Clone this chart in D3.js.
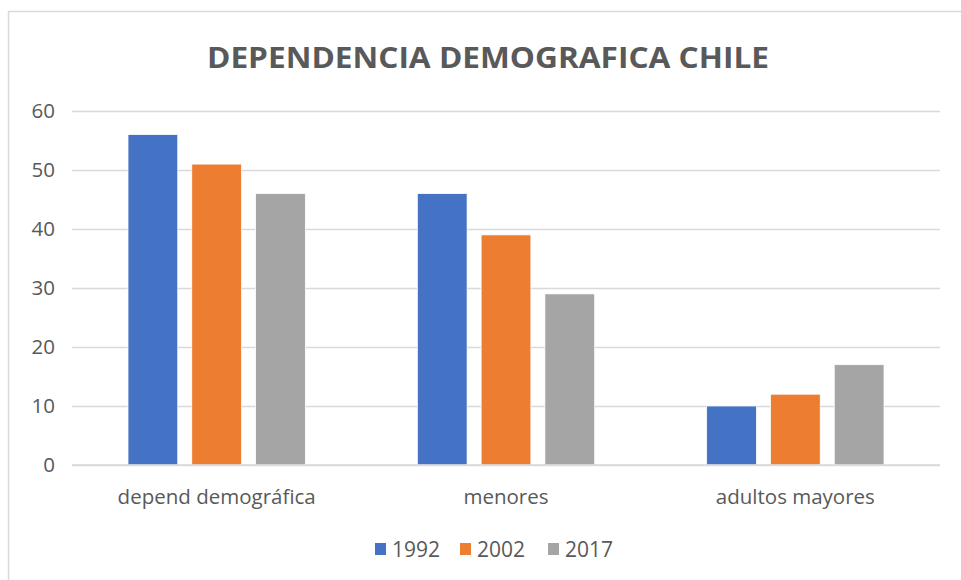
<!DOCTYPE html>
<html>
<head>
<meta charset="utf-8">
<script src="https://cdn.jsdelivr.net/npm/d3@7"></script>
<style>
  body { margin: 0; background: #fff; }
  svg { display: block; font-family: 'Open Sans', sans-serif; }
</style>
</head>
<body>
<div id="chart"></div>
<script>
/* global d3 */

// Data
const categories = ['depend demográfica', 'menores', 'adultos mayores']
const years = ['1992', '2002', '2017']
const values1992 = [56, 46, 10]
const values2002 = [51, 39, 12]
const values2017 = [46, 29, 17]
const yTicks = [0, 10, 20, 30, 40, 50, 60]
const colors = ['#4472C4', '#ED7D31', '#A5A5A5']

const series = [values1992, values2002, values2017]

// Canvas
const width = 961,
  height = 580,
  plotLeft = 72,
  plotRight = 940,
  plotTop = 111,
  plotBottom = 465

let svg = d3.select('#chart')
  .append('svg')
  .attr('width', width)
  .attr('height', height)

// chart frame
svg.append('rect')
  .attr('x', 8.5)
  .attr('y', 11.5)
  .attr('width', 970)
  .attr('height', 600)
  .attr('fill', '#fff')
  .attr('stroke', '#D9D9D9')
  .attr('stroke-width', 1.5)

// title
svg.append('text')
  .attr('x', 488)
  .attr('y', 68)
  .attr('text-anchor', 'middle')
  .attr('font-size', 29)
  .attr('font-weight', 'bold')
  .attr('fill', '#595959')
  .attr('textLength', 562)
  .attr('lengthAdjust', 'spacingAndGlyphs')
  .text('DEPENDENCIA DEMOGRAFICA CHILE')

// scales
const yScale = d3.scaleLinear()
  .domain([0, 60])
  .range([plotBottom, plotTop])

const xScale = d3.scaleBand()
  .domain(categories)
  .range([plotLeft, plotRight])

const groupInner = 56
const xSub = d3.scaleBand()
  .domain(years)
  .range([groupInner, xScale.bandwidth() - groupInner])
  .paddingInner(0.22)

// gridlines + y labels
const yAxis = d3.axisLeft(yScale)
  .tickValues(yTicks)
  .tickSize(-(plotRight - plotLeft))
  .tickPadding(17)

let gy = svg.append('g')
  .attr('transform', `translate(${plotLeft}, 0)`)
  .call(yAxis)
gy.select('.domain').remove()
gy.selectAll('.tick line')
  .attr('stroke', '#D9D9D9')
  .attr('stroke-width', 1.5)
gy.selectAll('.tick text')
  .attr('fill', '#595959')
  .attr('font-size', 20.5)
  .attr('font-family', "'Open Sans', sans-serif")

// x labels
const xAxis = d3.axisBottom(xScale).tickSize(0).tickPadding(24)
let gx = svg.append('g')
  .attr('transform', `translate(0, ${plotBottom})`)
  .call(xAxis)
gx.select('.domain').remove()
gx.selectAll('.tick text')
  .attr('fill', '#595959')
  .attr('font-size', 20.5)
  .attr('font-family', "'Open Sans', sans-serif")

// bars
years.forEach((yr, s) => {
  svg.append('g')
    .selectAll('rect')
    .data(series[s])
    .enter()
    .append('rect')
    .attr('x', (d, i) => xScale(categories[i]) + xSub(yr))
    .attr('y', (d) => yScale(d))
    .attr('width', xSub.bandwidth())
    .attr('height', (d) => plotBottom - yScale(d))
    .attr('fill', colors[s])
    .attr('stroke', '#fff')
    .attr('stroke-width', 0.75)
})

// baseline on top of bars
svg.append('line')
  .attr('x1', plotLeft)
  .attr('x2', plotRight)
  .attr('y1', plotBottom)
  .attr('y2', plotBottom)
  .attr('stroke', '#D9D9D9')
  .attr('stroke-width', 1.5)

// legend
const legendX = [392, 477, 565]
let legend = svg.append('g')
  .selectAll('g')
  .data(years)
  .enter()
  .append('g')
  .attr('transform', (d, i) => `translate(${legendX[i]}, 549)`)

legend.append('rect')
  .attr('x', -17)
  .attr('y', -6)
  .attr('width', 11)
  .attr('height', 12)
  .attr('fill', (d, i) => colors[i])

legend.append('text')
  .attr('x', 0)
  .attr('y', 7.5)
  .attr('font-size', 21)
  .attr('fill', '#595959')
  .text((d) => d)
</script>
</body>
</html>
